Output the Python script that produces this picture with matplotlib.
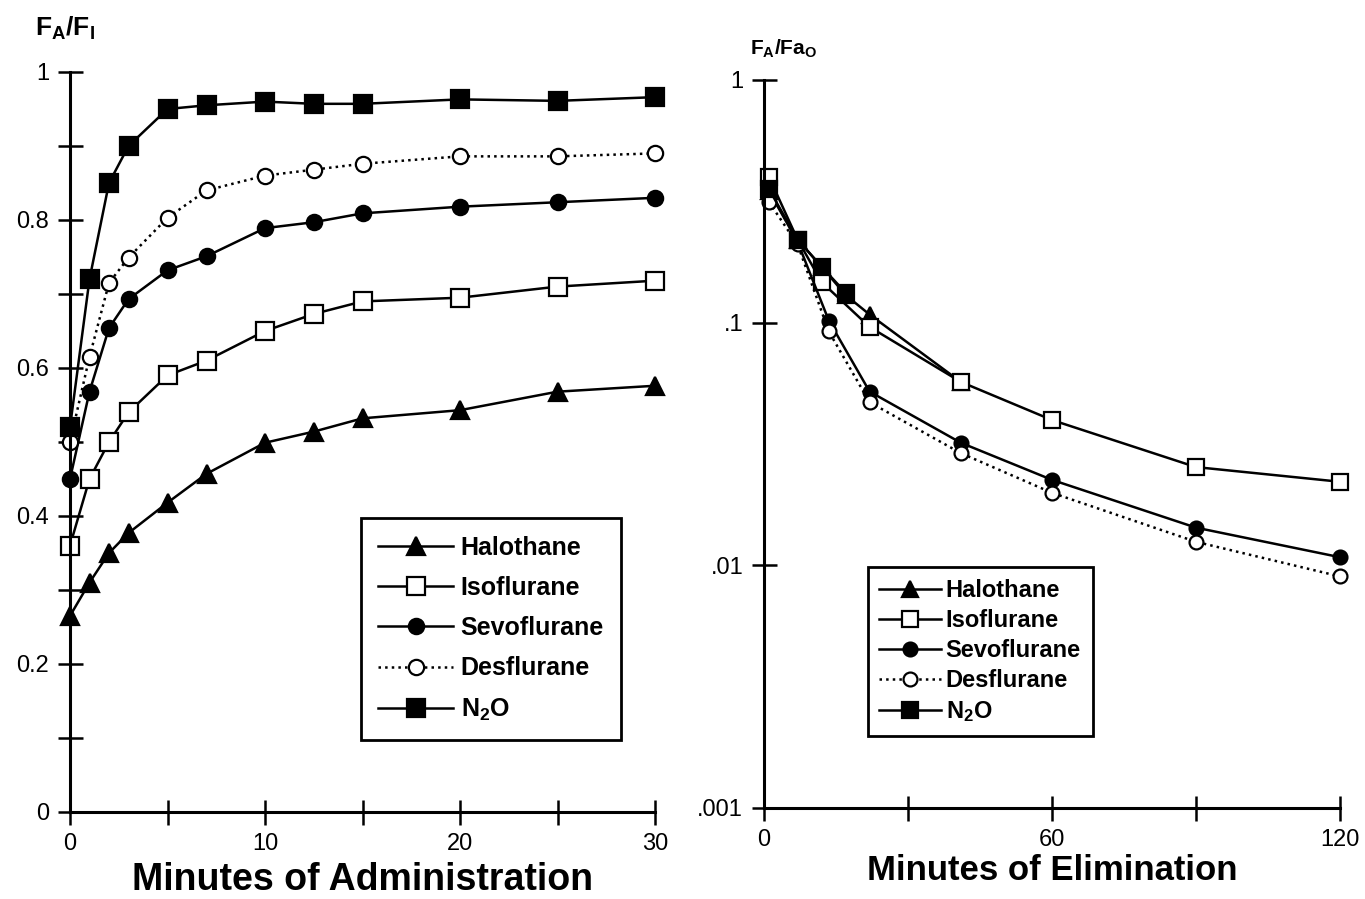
import matplotlib
matplotlib.use("Agg")
import matplotlib.pyplot as plt
from matplotlib import font_manager
from matplotlib.ticker import FixedLocator, FixedFormatter, NullLocator

# --- данные: поглощение (минуты введения) ---
adm_minutes = [0, 1, 2, 3, 5, 7, 10, 12.5, 15, 20, 25, 30]
adm_halothane = [0.265, 0.31, 0.35, 0.377, 0.418, 0.457, 0.499, 0.514, 0.532, 0.543, 0.568, 0.576]
adm_isoflurane = [0.36, 0.45, 0.50, 0.54, 0.59, 0.61, 0.65, 0.673, 0.69, 0.695, 0.71, 0.718]
adm_sevoflurane = [0.45, 0.568, 0.654, 0.693, 0.732, 0.751, 0.789, 0.797, 0.809, 0.818, 0.824, 0.83]
adm_desflurane = [0.50, 0.615, 0.715, 0.749, 0.803, 0.84, 0.86, 0.868, 0.876, 0.886, 0.886, 0.89]
adm_n2o = [0.52, 0.72, 0.85, 0.90, 0.95, 0.955, 0.96, 0.957, 0.957, 0.963, 0.961, 0.966]

# --- данные: выведение (минуты элиминации) ---
elim_halothane_t = [1, 7, 12, 17, 22, 41]
elim_halothane = [0.35, 0.22, 0.17, 0.13, 0.108, 0.057]
elim_isoflurane_t = [1, 7, 12, 22, 41, 60, 90, 120]
elim_isoflurane = [0.40, 0.22, 0.147, 0.096, 0.057, 0.0397, 0.0254, 0.0221]
elim_sevoflurane_t = [1, 7, 13.5, 22, 41, 60, 90, 120]
elim_sevoflurane = [0.35, 0.215, 0.102, 0.052, 0.032, 0.0225, 0.0143, 0.0108]
elim_desflurane_t = [1, 7, 13.5, 22, 41, 60, 90, 120]
elim_desflurane = [0.315, 0.21, 0.092, 0.047, 0.029, 0.0199, 0.0125, 0.009]
elim_n2o_t = [1, 7, 12, 17]
elim_n2o = [0.356, 0.22, 0.17, 0.133]

labels = ["Halothane", "Isoflurane", "Sevoflurane", "Desflurane", "N$_2$O"]

names = {f.name for f in font_manager.fontManager.ttflist}
font = "Liberation Sans Narrow" if "Liberation Sans Narrow" in names else "Liberation Sans"
plt.rcParams["font.family"] = [font, "DejaVu Sans"]
plt.rcParams["mathtext.fontset"] = "custom"
plt.rcParams["mathtext.rm"] = font + ":bold"
plt.rcParams["mathtext.it"] = font + ":bold"
plt.rcParams["mathtext.bf"] = font + ":bold"

styles = [
    dict(marker="^", mfc="black", ms=13, ls="-"),
    dict(marker="s", mfc="white", ms=13, ls="-"),
    dict(marker="o", mfc="black", ms=11, ls="-"),
    dict(marker="o", mfc="white", ms=11, ls=":"),
    dict(marker="s", mfc="black", ms=13, ls="-"),
]
common = dict(color="black", mec="black", mew=1.6, lw=1.8, clip_on=False)


def style_axes(ax):
    for s in ["top", "right"]:
        ax.spines[s].set_visible(False)
    for s in ["left", "bottom"]:
        ax.spines[s].set_linewidth(2.2)
    ax.tick_params(which="both", direction="inout", length=18, width=1.8,
                   labelsize=17, pad=6)
    ax.tick_params(axis="y", which="both", pad=6)


figure = plt.figure(figsize=(13.65, 8.99), dpi=100)

# ---- левый график ----
ax1 = figure.add_axes([70 / 1365, 1 - 812 / 899, 585 / 1365, 740 / 899])
adm_series = [adm_halothane, adm_isoflurane, adm_sevoflurane, adm_desflurane, adm_n2o]
for y, st, lab in zip(adm_series, styles, labels):
    ax1.plot(adm_minutes, y, label=lab, **st, **common)
ax1.set_xlim(0, 30)
ax1.set_ylim(0, 1)
style_axes(ax1)
ax1.xaxis.set_major_locator(FixedLocator([0, 10, 20, 30]))
ax1.xaxis.set_minor_locator(FixedLocator([5, 15, 25]))
ax1.yaxis.set_major_locator(FixedLocator([0, 0.2, 0.4, 0.6, 0.8, 1.0]))
ax1.yaxis.set_major_formatter(FixedFormatter(["0", "0.2", "0.4", "0.6", "0.8", "1"]))
ax1.yaxis.set_minor_locator(FixedLocator([0.1, 0.3, 0.5, 0.7, 0.9]))
ax1.set_xlabel("Minutes of Administration", fontsize=27, fontweight="bold", labelpad=5)
figure.text(35 / 1365, 1 - 36 / 899, r"$\mathregular{F_A/F_I}$", fontsize=19,
            fontweight="bold")
leg1 = ax1.legend(loc="upper left", bbox_to_anchor=(0.497, 0.397), borderaxespad=0,
                  numpoints=1, prop={"size": 18, "weight": "bold"}, handlelength=3.0,
                  handletextpad=0.3, labelspacing=0.65, borderpad=0.7,
                  fancybox=False, edgecolor="black", framealpha=1)
leg1.get_frame().set_linewidth(2)

# ---- правый график ----
ax2 = figure.add_axes([764 / 1365, 1 - 808 / 899, 576 / 1365, 728 / 899])
elim_series = [(elim_halothane_t, elim_halothane), (elim_isoflurane_t, elim_isoflurane),
               (elim_sevoflurane_t, elim_sevoflurane), (elim_desflurane_t, elim_desflurane),
               (elim_n2o_t, elim_n2o)]
for (t, y), st, lab in zip(elim_series, styles, labels):
    st = dict(st)
    st["ms"] = st["ms"] - 1
    ax2.plot(t, y, label=lab, **st, **common)
ax2.set_yscale("log")
ax2.set_xlim(0, 120)
ax2.set_ylim(0.001, 1)
style_axes(ax2)
ax2.xaxis.set_major_locator(FixedLocator([0, 60, 120]))
ax2.xaxis.set_minor_locator(FixedLocator([30, 90]))
ax2.yaxis.set_major_locator(FixedLocator([0.001, 0.01, 0.1, 1]))
ax2.yaxis.set_major_formatter(FixedFormatter([".001", ".01", ".1", "1"]))
ax2.yaxis.set_minor_locator(NullLocator())
ax2.set_xlabel("Minutes of Elimination", fontsize=25, fontweight="bold", labelpad=2)
figure.text(750 / 1365, 1 - 55 / 899, r"$\mathregular{F_A/Fa_O}$", fontsize=15,
            fontweight="bold")
leg2 = ax2.legend(loc="upper left", bbox_to_anchor=(0.18, 0.331), borderaxespad=0,
                  numpoints=1, prop={"size": 17, "weight": "bold"}, handlelength=2.6,
                  handletextpad=0.2, labelspacing=0.3, borderpad=0.5,
                  fancybox=False, edgecolor="black", framealpha=1)
leg2.get_frame().set_linewidth(2)

plt.savefig("out.png", dpi=100)
